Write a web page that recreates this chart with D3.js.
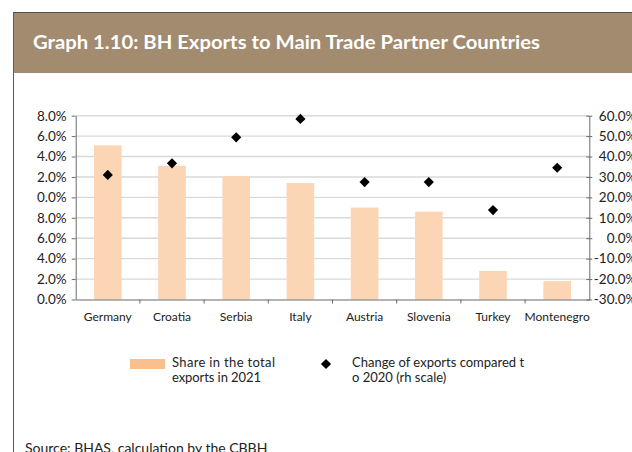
<!DOCTYPE html>
<html>
<head>
<meta charset="utf-8">
<script src="https://cdn.jsdelivr.net/npm/d3@7/dist/d3.min.js"></script>
<style>
  html, body { margin: 0; padding: 0; background: #ffffff; }
  svg { display: block; }
  text { font-family: Lato, "Open Sans", sans-serif; }
</style>
</head>
<body>
<svg id="chart" width="632" height="452"></svg>
<script>
// ---- Data ----
const categories = ["Germany", "Croatia", "Serbia", "Italy", "Austria", "Slovenia", "Turkey", "Montenegro"];
const shareValues = [15.1, 13.1, 12.1, 11.4, 9.0, 8.6, 2.8, 1.8];      // % share in total exports 2021 (left axis)
const changeValues = [31.0, 36.7, 49.4, 58.4, 27.5, 27.5, 13.8, 34.5];  // % change vs 2020 (right axis)
const leftTickValues = [0, 2, 4, 6, 8, 10, 12, 14, 16, 18];
const leftTickLabels = ["0.0%", "2.0%", "4.0%", "6.0%", "8.0%", "0.0%", "2.0%", "4.0%", "6.0%", "8.0%"];
const rightTickValues = [-30, -20, -10, 0, 10, 20, 30, 40, 50, 60];
const rightTickLabels = ["-30.0%", "-20.0%", "-10.0%", "0.0%", "10.0%", "20.0%", "30.0%", "40.0%", "50.0%", "60.0%"];
const titleText = "Graph 1.10: BH Exports to Main Trade Partner Countries";
const legendBarText = ["Share in the total", "exports in 2021"];
const legendDotText = ["Change of exports compared t", "o 2020 (rh scale)"];
const sourceText = "Source: BHAS, calculation by the  CBBH";

// ---- Layout ----
const svg = d3.select("#chart");
const plot = { left: 75.7, right: 589.3, top: 115.7, bottom: 299.5 };

// frame + header
svg.append("rect").attr("x", 13).attr("y", 12).attr("width", 640).attr("height", 61).attr("fill", "#a38b70");
svg.append("line").attr("x1", 13).attr("x2", 632).attr("y1", 12.5).attr("y2", 12.5).attr("stroke", "#5e4d3c").attr("stroke-width", 1.2);
svg.append("line").attr("x1", 13.5).attr("x2", 13.5).attr("y1", 12).attr("y2", 452).attr("stroke", "#5a5a5a").attr("stroke-width", 1);
svg.append("text").attr("x", 33).attr("y", 48.5).attr("fill", "#ffffff")
  .attr("font-size", 19.5).attr("font-weight", 700)
  .attr("textLength", 507).attr("lengthAdjust", "spacingAndGlyphs").text(titleText);

// scales
const x = d3.scaleBand().domain(categories).range([plot.left, plot.right]).paddingInner(0.57).paddingOuter(0.285);
const yL = d3.scaleLinear().domain([0, 18]).range([plot.bottom, plot.top]);
const yR = d3.scaleLinear().domain([-30, 60]).range([plot.bottom, plot.top]);

// gridlines
svg.append("g").selectAll("line").data(leftTickValues.slice(1)).join("line")
  .attr("x1", plot.left).attr("x2", plot.right)
  .attr("y1", d => yL(d)).attr("y2", d => yL(d))
  .attr("stroke", "#d9d9d9").attr("stroke-width", 1.4);

// bars
svg.append("g").selectAll("rect").data(categories).join("rect")
  .attr("x", d => x(d)).attr("width", x.bandwidth())
  .attr("y", (d, i) => yL(shareValues[i]))
  .attr("height", (d, i) => yL(0) - yL(shareValues[i]))
  .attr("fill", "#fcd5b5");

// left axis
const leftAxis = d3.axisLeft(yL).tickValues(leftTickValues)
  .tickFormat((d, i) => leftTickLabels[i]).tickSize(4).tickSizeOuter(0).tickPadding(5);
const gL = svg.append("g").attr("transform", `translate(${plot.left},0)`).call(leftAxis);
gL.select(".domain").attr("stroke", "#6b6b6b");
gL.selectAll(".tick line").attr("stroke", "#6b6b6b");
gL.selectAll("text").attr("font-size", 13.5).attr("fill", "#222").attr("font-family", "Lato, sans-serif");

// right axis
const rightAxis = d3.axisRight(yR).tickValues(rightTickValues)
  .tickFormat((d, i) => rightTickLabels[i]).tickSize(0).tickSizeOuter(0);
const gR = svg.append("g").attr("transform", `translate(${plot.right},0)`).call(rightAxis);
gR.select(".domain").attr("stroke", "#6b6b6b");
gR.selectAll(".tick line").remove();
gR.selectAll(".tick").append("line").attr("x1", -3).attr("x2", 3).attr("stroke", "#6b6b6b");
gR.selectAll("text").attr("font-size", 13.5).attr("fill", "#222").attr("font-family", "Lato, sans-serif")
  .attr("text-anchor", "end").attr("x", 47);

// bottom axis (labels at category centres, ticks at boundaries)
const bottomAxis = d3.axisBottom(x).tickSize(0).tickSizeOuter(0).tickPadding(13);
const gB = svg.append("g").attr("transform", `translate(0,${plot.bottom})`).call(bottomAxis);
gB.select(".domain").attr("stroke", "#6b6b6b").attr("stroke-width", 1.2);
gB.selectAll("text").attr("font-size", 12).attr("fill", "#222").attr("font-family", "Lato, sans-serif");
const boundaries = categories.slice(1).map(c => x(c) - x.step() * x.paddingInner() / 2);
svg.append("g").selectAll("line").data(boundaries).join("line")
  .attr("x1", d => d).attr("x2", d => d).attr("y1", plot.bottom).attr("y2", plot.bottom + 4)
  .attr("stroke", "#6b6b6b");

// diamonds
const diamond = d3.symbol().type(d3.symbolSquare).size(52);
svg.append("g").selectAll("path").data(categories).join("path")
  .attr("d", diamond)
  .attr("transform", (d, i) => `translate(${x(d) + x.bandwidth() / 2},${yR(changeValues[i])}) rotate(45)`)
  .attr("fill", "#000");

// legend
const lg = svg.append("g");
lg.append("rect").attr("x", 130).attr("y", 359).attr("width", 35).attr("height", 10).attr("fill", "#f9c08d");
legendBarText.forEach((t, i) => {
  lg.append("text").attr("font-size", 13).attr("fill", "#222").attr("x", 172).attr("y", 367 + i * 14.5)
    .attr("textLength", i === 0 ? 103 : 89).attr("lengthAdjust", "spacing").text(t);
});
lg.append("path").attr("d", d3.symbol().type(d3.symbolSquare).size(52))
  .attr("transform", "translate(326,364) rotate(45)").attr("fill", "#000");
legendDotText.forEach((t, i) => {
  lg.append("text").attr("font-size", 13).attr("fill", "#222").attr("x", 352).attr("y", 367 + i * 14.5).text(t);
});

// source
svg.append("text").attr("x", 25).attr("y", 453).attr("font-size", 14).attr("fill", "#222").text(sourceText);
</script>
</body>
</html>
